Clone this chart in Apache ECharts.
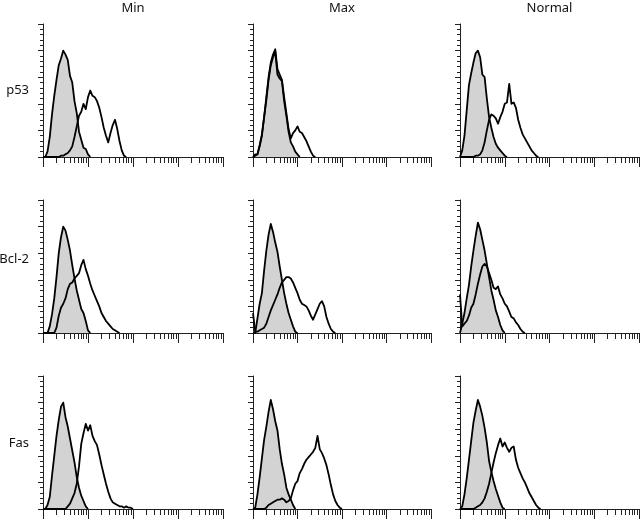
<!DOCTYPE html>
<html>
<head>
<meta charset="utf-8">
<script src="https://cdn.jsdelivr.net/npm/echarts@6/dist/echarts.min.js"></script>
<style>
html, body { margin: 0; padding: 0; background: #fff; }
#chart { width: 640px; height: 519px; }
</style>
</head>
<body>
<div id="chart"></div>
<script>
// fluorescence channels, in decades (log10)
const channels = [0, 0.05, 0.1, 0.15, 0.2, 0.25, 0.3, 0.35, 0.4, 0.45, 0.5, 0.55, 0.6, 0.65, 0.7, 0.75, 0.8, 0.85, 0.9, 0.95,
  1, 1.05, 1.1, 1.15, 1.2, 1.25, 1.3, 1.35, 1.4, 1.45, 1.5, 1.55, 1.6, 1.65, 1.7, 1.75, 1.8, 1.85, 1.9, 1.95,
  2, 2.05, 2.1, 2.15, 2.2]

const columns = ['Min', 'Max', 'Normal']
const rows = ['p53', 'Bcl-2', 'Fas']
const majorTicks = [0, 1, 2, 3, 4]
const decades = [0, 1, 2, 3]
const minorSteps = [2, 3, 4, 5, 6, 7, 8, 9]

// counts per channel: control (grey filled) and stained (open)
const minP53Ctl = [0, 0, 4, 15, 32, 46, 58, 69, 74, 80, 77, 73, 61, 56, 42, 33, 19, 13, 7, 6, 2, 0]
const minP53 = [0, 0, 0, 0, 0, 0, 0, 0, 1, 1, 2, 3, 5, 8, 15, 23, 31, 34, 40, 36, 45, 50, 46, 45, 42, 37, 30, 22, 16, 11, 18, 24, 28, 21, 12, 5, 1, 0]
const maxP53Ctl = [0, 1, 2, 8, 16, 30, 43, 58, 69, 75, 79, 62, 59, 57, 42, 31, 19, 11, 8, 4, 2, 0]
const maxP53 = [0, 2, 2, 9, 17, 30, 45, 60, 71, 77, 81, 66, 62, 58, 45, 33, 21, 14, 18, 20, 23, 19, 18, 15, 12, 8, 4, 1, 0]
const normP53Ctl = [0, 5, 16, 35, 54, 63, 71, 78, 80, 75, 62, 60, 44, 30, 22, 15, 10, 7, 5, 3, 1, 0]
const normP53 = [0, 0, 0, 0, 0, 0, 0, 1, 1, 2, 5, 11, 20, 28, 32, 31, 29, 25, 30, 34, 40, 41, 55, 40, 41, 37, 28, 22, 17, 14, 11, 8, 5, 3, 1, 0]

const minBclCtl = [0, 0, 0, 5, 14, 26, 42, 60, 72, 80, 77, 70, 62, 51, 41, 32, 25, 18, 15, 9, 2, 0]
const minBcl = [0, 0, 0, 0, 0, 0, 4, 13, 19, 22, 26, 33, 37, 38, 41, 43, 45, 51, 55, 48, 43, 37, 32, 28, 24, 20, 15, 12, 9, 7, 5, 3, 2, 1, 0]
const maxBclCtl = [0, 0, 11, 22, 30, 47, 62, 74, 82, 76, 68, 61, 50, 40, 30, 22, 15, 10, 5, 1, 0]
const maxBcl = [15, 1, 1, 2, 3, 4, 7, 12, 17, 21, 25, 29, 34, 38, 40, 42, 42, 41, 38, 34, 30, 25, 22, 21, 20, 17, 13, 10, 14, 18, 22, 24, 20, 12, 7, 3, 1, 0]
const normBclCtl = [0, 7, 15, 26, 36, 50, 62, 73, 83, 78, 70, 62, 52, 42, 32, 25, 17, 12, 6, 2, 0]
const normBcl = [29, 5, 7, 9, 13, 19, 22, 29, 37, 44, 50, 52, 50, 45, 40, 34, 33, 35, 29, 26, 22, 20, 16, 12, 11, 8, 6, 3, 1, 0]

const minFasCtl = [0, 0, 3, 9, 25, 40, 55, 67, 77, 80, 69, 62, 53, 44, 35, 24, 16, 10, 6, 2, 0]
const minFas = [0, 0, 0, 0, 0, 0, 0, 0, 0, 0, 0, 2, 4, 8, 12, 19, 32, 49, 57, 64, 59, 63, 55, 51, 48, 41, 33, 26, 19, 13, 8, 5, 4, 3, 2, 2, 1, 2, 1, 1, 0]
const maxFasCtl = [0, 1, 11, 24, 38, 52, 62, 73, 82, 75, 66, 59, 45, 34, 26, 16, 11, 7, 3, 0]
const maxFas = [0, 0, 0, 0, 0, 0, 1, 3, 4, 5, 6, 7, 7, 8, 7, 5, 6, 8, 14, 19, 21, 27, 30, 34, 37, 39, 41, 43, 46, 55, 45, 42, 38, 33, 26, 18, 11, 6, 3, 1, 0]
const normFasCtl = [0, 2, 11, 23, 37, 51, 65, 74, 82, 77, 70, 61, 50, 36, 28, 21, 15, 10, 5, 1, 0]
const normFas = [0, 0, 0, 0, 0, 0, 0, 1, 2, 3, 5, 8, 13, 19, 27, 35, 42, 48, 53, 47, 50, 46, 43, 46, 47, 37, 31, 27, 23, 20, 16, 12, 9, 6, 3, 1, 0]

// panels row by row
const panels = [
  [minP53Ctl, minP53], [maxP53Ctl, maxP53], [normP53Ctl, normP53],
  [minBclCtl, minBcl], [maxBclCtl, maxBcl], [normBclCtl, normBcl],
  [minFasCtl, minFas], [maxFasCtl, maxFas], [normFasCtl, normFas]
]

// layout
const colLeft = [43, 253, 460]
const colWidth = [180, 178, 179]
const rowTop = [24, 200, 376]
const rowHeight = 133
const axisColor = '#222'

const minorTicks = []
decades.forEach(d => minorSteps.forEach(k => minorTicks.push(d + Math.log10(k))))

const toPairs = (counts) => counts.map((c, i) => [channels[i], c])

const grid = []
const xAxis = []
const yAxis = []
const series = []

panels.forEach((p, k) => {
  const r = Math.floor(k / 3)
  const c = k % 3
  grid.push({ left: colLeft[c], top: rowTop[r], width: colWidth[c], height: rowHeight })

  const baseX = {
    gridIndex: k,
    type: 'value',
    min: 0,
    max: 4,
    position: 'bottom',
    axisLine: { show: true, lineStyle: { color: axisColor, width: 1 } },
    axisLabel: { show: false },
    splitLine: { show: false }
  }
  xAxis.push(Object.assign({}, baseX, {
    axisTick: { show: true, customValues: majorTicks, length: 10, lineStyle: { color: axisColor, width: 1 } }
  }))
  xAxis.push(Object.assign({}, baseX, {
    axisTick: { show: true, customValues: minorTicks, length: 6, lineStyle: { color: axisColor, width: 1 } }
  }))

  yAxis.push({
    gridIndex: k,
    type: 'value',
    min: 0,
    max: 100,
    interval: 20,
    axisLine: { show: true, lineStyle: { color: axisColor, width: 1 } },
    axisTick: { show: true, length: 5, lineStyle: { color: axisColor, width: 1 } },
    minorTick: { show: true, splitNumber: 5, length: 3, lineStyle: { color: axisColor, width: 1 } },
    axisLabel: { show: false },
    splitLine: { show: false },
    minorSplitLine: { show: false }
  })

  series.push({
    type: 'line',
    xAxisIndex: 2 * k,
    yAxisIndex: k,
    data: toPairs(p[0]),
    symbol: 'none',
    silent: true,
    lineStyle: { color: '#000', width: 1.8, join: 'round' },
    areaStyle: { color: '#d3d3d3', opacity: 1 },
    z: 2
  })
  series.push({
    type: 'line',
    xAxisIndex: 2 * k,
    yAxisIndex: k,
    data: toPairs(p[1]),
    symbol: 'none',
    silent: true,
    lineStyle: { color: '#000', width: 1.8, join: 'round' },
    z: 3
  })
})

const font = '13px "Noto Sans", sans-serif'
const graphic = []
columns.forEach((name, c) => {
  graphic.push({
    type: 'text',
    x: colLeft[c] + colWidth[c] / 2,
    y: 8,
    style: { text: name, font: font, fill: '#111', align: 'center', verticalAlign: 'middle' }
  })
})
const rowLabelY = [90, 259, 443]
rows.forEach((name, r) => {
  graphic.push({
    type: 'text',
    x: 29,
    y: rowLabelY[r],
    style: { text: name, font: font, fill: '#111', align: 'right', verticalAlign: 'middle' }
  })
})

const chart = echarts.init(document.getElementById('chart'))
chart.setOption({
  animation: false,
  backgroundColor: '#fff',
  grid,
  xAxis,
  yAxis,
  series,
  graphic
})
</script>
</body>
</html>
